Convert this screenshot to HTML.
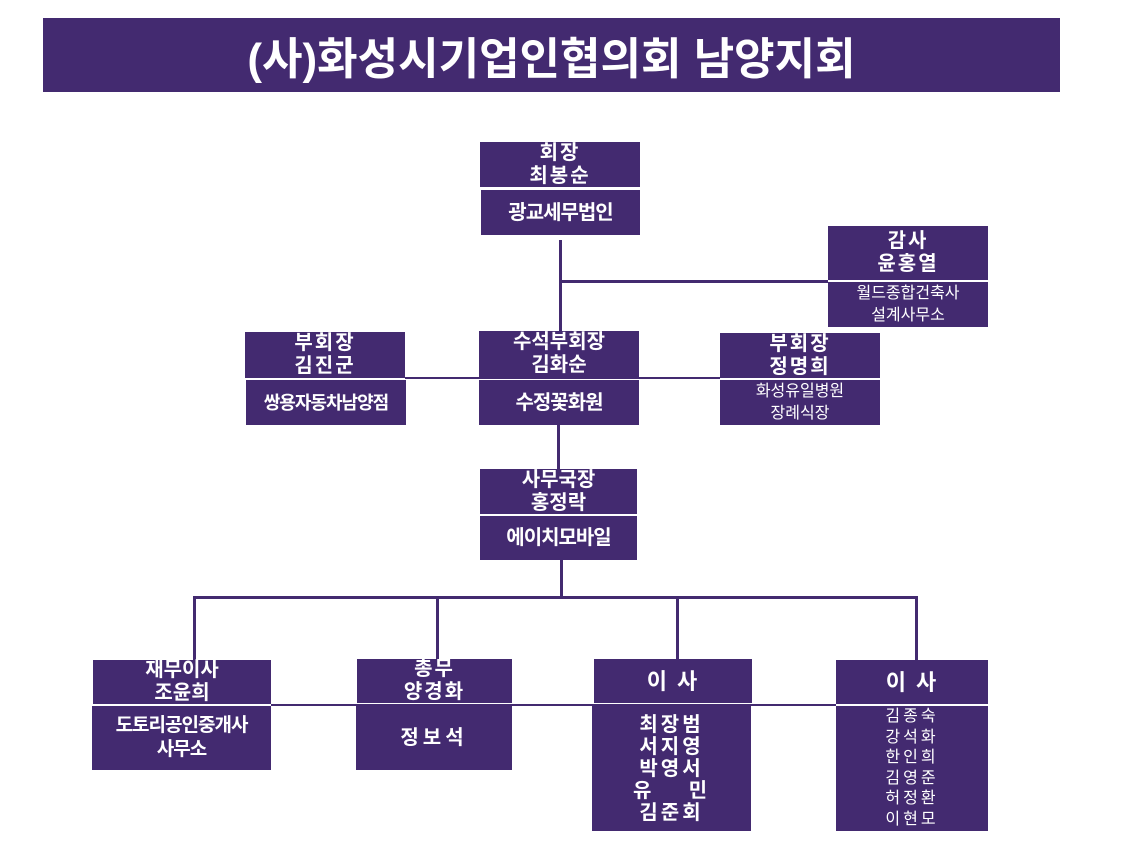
<!DOCTYPE html>
<html><head><meta charset="utf-8"><style>
body{margin:0;width:1130px;height:854px;background:#fff;position:relative;overflow:hidden;font-family:"Liberation Sans","Noto Sans CJK KR","NanumGothic",sans-serif;}
.b{position:absolute;background:#432a70;color:#fff;display:flex;flex-direction:column;align-items:center;justify-content:center;text-align:center;font-weight:bold;box-sizing:border-box;white-space:nowrap;}
.l{position:absolute;background:#432a70;}
.t{font-size:20px;line-height:23px;letter-spacing:2px}
.s{font-size:20px;line-height:24px;letter-spacing:-1px}
.x{font-size:16px;line-height:22px;font-weight:normal}
</style></head><body>
<div class="b" style="left:43px;top:18px;width:1017px;height:74px;font-size:44px;letter-spacing:0">(사)화성시기업인협의회 남양지회</div>

<div class="l" style="left:559px;top:240px;width:3px;height:92px"></div>
<div class="l" style="left:560px;top:280px;width:268px;height:3px"></div>
<div class="l" style="left:405px;top:377px;width:315px;height:2px"></div>
<div class="l" style="left:557px;top:425px;width:3px;height:44px"></div>
<div class="l" style="left:560px;top:560px;width:3px;height:38px"></div>
<div class="l" style="left:193px;top:596px;width:725px;height:3px"></div>
<div class="l" style="left:193px;top:596px;width:3px;height:64px"></div>
<div class="l" style="left:436px;top:596px;width:3px;height:63px"></div>
<div class="l" style="left:676px;top:596px;width:3px;height:63px"></div>
<div class="l" style="left:915px;top:596px;width:3px;height:64px"></div>
<div class="l" style="left:271px;top:704px;width:565px;height:2px"></div>

<div class="b t" style="left:480px;top:142px;width:160px;height:45px">회장<br>최봉순</div>
<div class="b s" style="left:481px;top:190px;width:159px;height:45px">광교세무법인</div>

<div class="b t" style="left:828px;top:226px;width:160px;height:54px">감사<br>윤홍열</div>
<div class="b x" style="left:828px;top:282px;width:160px;height:45px">월드종합건축사<br>설계사무소</div>

<div class="b t" style="left:245px;top:332px;width:160px;height:46px">부회장<br>김진군</div>
<div class="b s" style="left:246px;top:380px;width:160px;height:45px;font-size:18px">쌍용자동차남양점</div>

<div class="b t" style="left:479px;top:331px;width:160px;height:46px;letter-spacing:0">수석부회장<br>김화순</div>
<div class="b s" style="left:479px;top:380px;width:160px;height:45px">수정꽃화원</div>

<div class="b t" style="left:720px;top:333px;width:160px;height:45px">부회장<br>정명희</div>
<div class="b x" style="left:720px;top:380px;width:160px;height:45px">화성유일병원<br>장례식장</div>

<div class="b t" style="left:480px;top:469px;width:157px;height:45px;letter-spacing:0">사무국장<br>홍정락</div>
<div class="b s" style="left:480px;top:516px;width:157px;height:44px">에이치모바일</div>

<div class="b t" style="left:93px;top:660px;width:178px;height:44px;letter-spacing:0">재무이사<br>조윤희</div>
<div class="b s" style="left:92px;top:706px;width:179px;height:64px;font-size:19px">도토리공인중개사<br>사무소</div>

<div class="b t" style="left:357px;top:659px;width:155px;height:44px">총무<br>양경화</div>
<div class="b s" style="left:356px;top:706px;width:156px;height:64px;letter-spacing:4px">정보석</div>

<div class="b t" style="left:594px;top:659px;width:158px;height:44px;font-size:22px">이 사</div>
<div class="b" style="left:592px;top:706px;width:159px;height:125px;font-size:20px;line-height:22px;letter-spacing:3px">최장범<br>서지영<br>박영서<br>유&nbsp;&nbsp;&nbsp;&nbsp;민<br>김준회</div>

<div class="b t" style="left:836px;top:660px;width:152px;height:44px;font-size:22px">이 사</div>
<div class="b" style="left:836px;top:706px;width:152px;height:125px;font-size:16px;line-height:20.5px;font-weight:normal;letter-spacing:3px">김종숙<br>강석화<br>한인희<br>김영준<br>허정환<br>이현모</div>
</body></html>
